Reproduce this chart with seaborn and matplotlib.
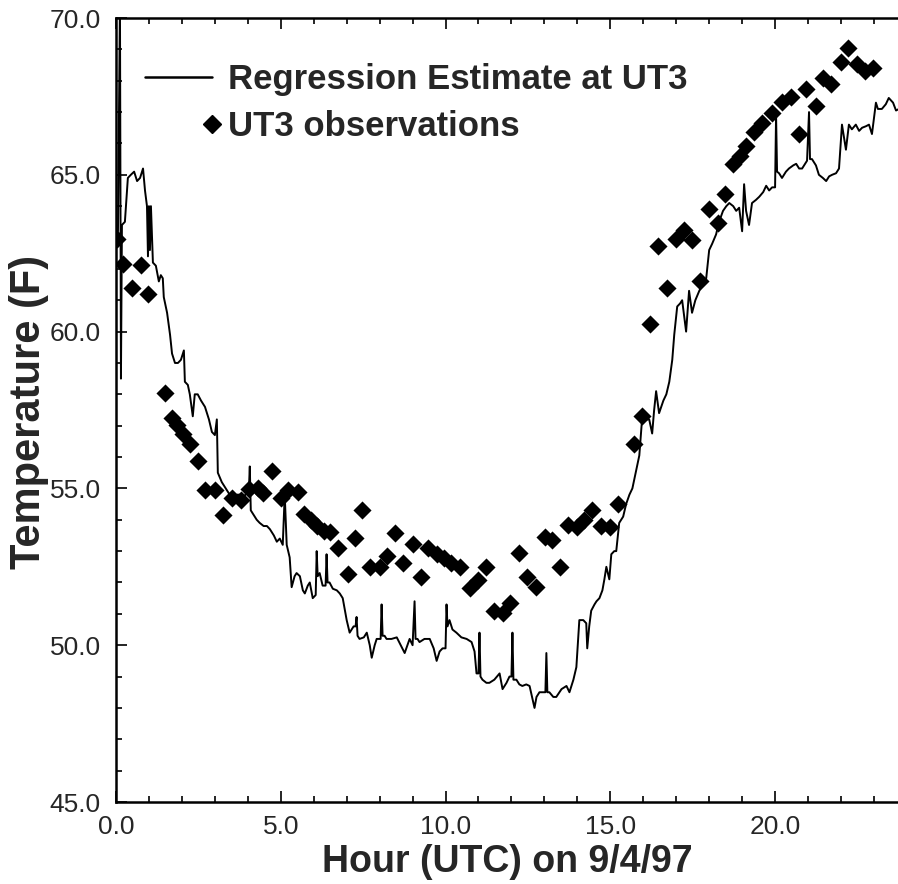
import matplotlib
matplotlib.use("Agg")
import matplotlib.pyplot as plt
from matplotlib.ticker import MultipleLocator, FormatStrFormatter
from matplotlib.lines import Line2D
import seaborn as sns
import pandas as pd

# Regression estimate (line) — hours UTC and temperature (F)
est_hours = [0.06, 0.12, 0.15, 0.18, 0.27, 0.36, 0.45, 0.55, 0.64, 0.73, 0.82, 0.88, 0.94, 0.97, 1.00, 1.03, 1.06,
             1.12, 1.21, 1.30, 1.36, 1.42, 1.45, 1.55, 1.64, 1.70, 1.79, 1.88, 1.97, 2.06, 2.09, 2.18, 2.24, 2.33,
             2.39, 2.48, 2.58, 2.70, 2.82, 2.91, 3.00, 3.06, 3.09, 3.21, 3.33, 3.45, 3.55, 3.67, 3.79, 3.88, 3.97,
             4.03, 4.06, 4.09, 4.15, 4.27, 4.36, 4.48, 4.58, 4.67, 4.79, 4.88, 4.97, 5.06, 5.12, 5.18, 5.27, 5.33,
             5.42, 5.48, 5.58, 5.67, 5.73, 5.82, 5.88, 5.97, 6.06, 6.09, 6.12, 6.18, 6.27, 6.36, 6.39, 6.42, 6.48,
             6.58, 6.70, 6.79, 6.88, 7.00, 7.09, 7.21, 7.27, 7.30, 7.33, 7.39, 7.52, 7.61, 7.70, 7.76, 7.85, 7.91,
             8.03, 8.06, 8.09, 8.15, 8.21, 8.36, 8.52, 8.64, 8.76, 8.91, 9.00, 9.06, 9.09, 9.15, 9.21, 9.36, 9.52,
             9.64, 9.73, 9.82, 9.91, 10.00, 10.03, 10.06, 10.12, 10.21, 10.33, 10.48, 10.64, 10.79, 10.88, 10.94,
             11.00, 11.03, 11.06, 11.12, 11.24, 11.33, 11.48, 11.64, 11.73, 11.85, 11.94, 12.00, 12.03, 12.06,
             12.15, 12.24, 12.33, 12.45, 12.55, 12.70, 12.76, 12.85, 12.97, 13.03, 13.06, 13.09, 13.15, 13.27,
             13.36, 13.52, 13.67, 13.76, 13.88, 13.97, 14.06, 14.18, 14.27, 14.30, 14.36, 14.42, 14.52, 14.58,
             14.67, 14.76, 14.82, 14.88, 14.97, 15.03, 15.12, 15.18, 15.27, 15.39, 15.48, 15.58, 15.67, 15.79,
             15.88, 15.97, 16.09, 16.18, 16.27, 16.33, 16.39, 16.48, 16.61, 16.70, 16.79, 16.88, 16.94, 17.03,
             17.12, 17.18, 17.30, 17.39, 17.48, 17.58, 17.70, 17.82, 17.91, 18.00, 18.09, 18.21, 18.30, 18.42,
             18.52, 18.61, 18.73, 18.82, 18.91, 19.00, 19.06, 19.12, 19.21, 19.30, 19.42, 19.52, 19.64, 19.73,
             19.82, 19.91, 20.00, 20.03, 20.06, 20.12, 20.21, 20.33, 20.42, 20.55, 20.64, 20.73, 20.82, 20.97,
             21.03, 21.06, 21.12, 21.24, 21.33, 21.45, 21.55, 21.64, 21.73, 21.85, 21.94, 22.03, 22.15, 22.24,
             22.33, 22.45, 22.55, 22.64, 22.76, 22.85, 22.94, 23.06, 23.12, 23.24, 23.36, 23.45, 23.58, 23.67,
             23.76]
est_temps = [63.2, 70.5, 58.5, 63.4, 63.5, 64.9, 65.0, 65.1, 64.8, 64.9, 65.2, 64.5, 64.0, 62.4, 64.0, 62.6, 64.0,
             62.2, 62.1, 61.6, 61.8, 61.7, 61.1, 60.6, 59.9, 59.3, 59.0, 59.0, 59.1, 59.4, 58.4, 58.3, 58.0, 57.3,
             58.0, 58.0, 57.8, 57.6, 57.2, 56.8, 56.7, 57.2, 55.5, 55.2, 55.0, 54.8, 54.6, 54.8, 54.8, 54.7, 54.9,
             54.9, 55.7, 54.3, 54.2, 54.0, 53.9, 53.8, 53.8, 53.7, 53.5, 53.3, 53.4, 53.2, 54.8, 53.2, 52.8, 51.85,
             52.2, 52.3, 52.2, 51.75, 51.65, 51.9, 52.0, 51.5, 51.6, 53.0, 52.2, 52.3, 51.9, 51.9, 52.9, 52.0, 52.0,
             51.8, 51.75, 51.65, 51.5, 50.8, 50.4, 50.6, 50.6, 50.9, 50.3, 50.2, 50.25, 50.4, 50.0, 49.6, 50.0, 50.2,
             50.2, 51.3, 50.3, 50.3, 50.2, 50.2, 50.25, 50.0, 49.75, 50.2, 50.0, 51.4, 50.2, 50.2, 50.1, 50.2, 50.2,
             49.9, 49.5, 49.8, 49.9, 49.9, 51.3, 50.6, 50.8, 50.5, 50.4, 50.25, 50.2, 50.1, 49.8, 49.1,
             49.1, 50.4, 49.0, 48.9, 48.8, 48.8, 48.9, 49.1, 48.6, 48.8, 49.0, 49.0, 50.4, 48.9,
             48.9, 48.75, 48.7, 48.75, 48.7, 48.0, 48.35, 48.5, 48.5, 48.5, 49.75, 48.5, 48.5, 48.35,
             48.35, 48.6, 48.7, 48.5, 48.9, 49.3, 50.8, 50.8, 50.7, 49.9, 50.6, 51.1, 51.3, 51.4,
             51.5, 51.75, 52.1, 52.5, 52.1, 52.9, 53.0, 53.0, 53.9, 54.1, 54.5, 54.8, 55.0, 55.6,
             56.05, 57.3, 57.2, 57.2, 56.75, 57.5, 58.1, 57.4, 57.8, 58.0, 58.4, 59.1, 59.9, 60.8,
             60.9, 61.0, 60.0, 61.3, 60.6, 61.0, 61.3, 61.55, 61.7, 62.6, 62.8, 63.1, 63.5, 63.85,
             64.0, 64.1, 64.0, 63.85, 63.95, 63.2, 64.7, 63.85, 63.4, 64.1, 64.2, 64.3, 64.45, 64.65,
             64.5, 64.6, 64.6, 66.9, 65.1, 65.05, 64.9, 65.1, 65.2, 65.3, 65.35, 65.2, 65.2, 65.45,
             67.0, 65.5, 65.5, 65.3, 65.0, 64.9, 64.8, 64.95, 65.0, 65.05, 65.2, 66.6, 65.8, 66.6,
             66.45, 66.6, 66.4, 66.5, 66.55, 66.6, 66.3, 67.3, 67.1, 67.1, 67.25, 67.45, 67.3, 67.05,
             67.1]

# UT3 observations (diamonds)
obs_hours = [0.03, 0.21, 0.48, 0.76, 0.97, 1.48, 1.70, 1.85, 2.03, 2.24, 2.48, 2.70, 3.00, 3.24, 3.52, 3.79,
             4.03, 4.30, 4.45, 4.73, 5.00, 5.21, 5.52, 5.70, 5.91, 6.09, 6.30, 6.48, 6.73, 7.03, 7.24, 7.48,
             7.70, 8.00, 8.21, 8.48, 8.70, 9.00, 9.27, 9.48, 9.73, 9.94, 10.18, 10.45, 10.73, 10.97, 11.24,
             11.48, 11.73, 11.97, 12.24, 12.48, 12.73, 13.03, 13.24, 13.48, 13.73, 14.00, 14.21, 14.45, 14.73,
             15.00, 15.24, 15.73, 15.97, 16.21, 16.45, 16.73, 17.00, 17.24, 17.48, 17.73, 18.00, 18.27, 18.48,
             18.73, 18.94, 19.12, 19.36, 19.61, 19.91, 20.21, 20.48, 20.73, 20.94, 21.24, 21.45, 21.70, 22.00,
             22.21, 22.48, 22.73, 22.97]
obs_temps = [62.96, 62.17, 61.40, 62.13, 61.21, 58.03, 57.23, 57.01, 56.75, 56.43, 55.86, 54.94, 54.94, 54.14,
             54.68, 54.62, 54.97, 55.00, 54.84, 55.57, 54.68, 54.94, 54.90, 54.17, 53.98, 53.79, 53.63, 53.60,
             53.09, 52.26, 53.41, 54.30, 52.48, 52.48, 52.83, 53.57, 52.61, 53.22, 52.17, 53.09, 52.90, 52.77,
             52.61, 52.48, 51.82, 52.07, 52.48, 51.08, 51.02, 51.34, 52.93, 52.17, 51.85, 53.44, 53.34, 52.48,
             53.82, 53.76, 53.98, 54.30, 53.79, 53.76, 54.49, 56.43, 57.32, 60.25, 62.74, 61.40, 62.96, 63.25,
             62.93, 61.62, 63.92, 63.47, 64.39, 65.35, 65.61, 65.92, 66.37, 66.66, 66.97, 67.32, 67.48, 66.31,
             67.74, 67.20, 68.09, 67.90, 68.60, 69.04, 68.54, 68.31, 68.41]

x_ticks = [0, 5, 10, 15, 20]
y_ticks = [45, 50, 55, 60, 65, 70]
x_label = "Hour (UTC) on 9/4/97"
y_label = "Temperature (F)"
line_label = "Regression Estimate at UT3"
obs_label = "UT3 observations"

sns.set_style("ticks")
narrow = ["Liberation Sans Narrow", "Liberation Sans", "DejaVu Sans"]
plt.rcParams["font.family"] = narrow

est_df = pd.DataFrame({"hour": est_hours, "temp": est_temps})
obs_df = pd.DataFrame({"hour": obs_hours, "temp": obs_temps})

fig = plt.figure(figsize=(8.98, 8.84), dpi=100)
ax = fig.add_axes([116 / 898, 82 / 884, 1 - 116 / 898, (884 - 18 - 82) / 884])

sns.lineplot(data=est_df, x="hour", y="temp", sort=False, estimator=None,
             color="black", linewidth=1.4, ax=ax, legend=False)
sns.scatterplot(data=obs_df, x="hour", y="temp", marker="D", s=85, color="black",
                edgecolor="black", linewidth=0, ax=ax, legend=False, zorder=3)

ax.set_xlim(0, 23.73)
ax.set_ylim(45, 70)
ax.set_xticks(x_ticks)
ax.set_yticks(y_ticks)
ax.xaxis.set_major_formatter(FormatStrFormatter("%.1f"))
ax.yaxis.set_major_formatter(FormatStrFormatter("%.1f"))
ax.xaxis.set_minor_locator(MultipleLocator(1))
ax.yaxis.set_minor_locator(MultipleLocator(1))
ax.tick_params(which="both", direction="in", top=True, right=False, color="black", width=1.2)
ax.tick_params(which="major", length=8)
ax.tick_params(which="minor", length=4.5)
ax.tick_params(axis="y", which="major", pad=11, labelsize=19)
ax.tick_params(axis="x", which="major", pad=9, labelsize=19)
for spine in ["left", "bottom", "top"]:
    ax.spines[spine].set_linewidth(1.8)
    ax.spines[spine].set_color("black")
ax.spines["right"].set_visible(False)

ax.set_xlabel(x_label, fontsize=27, fontweight="bold", family=narrow, labelpad=4)
ax.set_ylabel(y_label, fontsize=30, fontweight="bold",
              family=["Liberation Sans", "DejaVu Sans"])
ax.yaxis.set_label_coords(-0.086, 0.497)

leg_prop = {"family": narrow, "weight": "bold", "size": 25}
h_line = Line2D([], [], color="black", linewidth=1.8)
h_obs = Line2D([], [], color="black", marker="D", linestyle="none", markersize=9.5)
leg1 = fig.legend(handles=[h_line], labels=[line_label], loc="center left",
                  bbox_to_anchor=(145 / 898, 1 - 80 / 884), frameon=False, prop=leg_prop,
                  handlelength=1.93, handletextpad=0.46, borderpad=0, borderaxespad=0)
leg2 = fig.legend(handles=[h_obs], labels=[obs_label], loc="center left",
                  bbox_to_anchor=(203 / 898, 1 - 127 / 884), frameon=False, prop=leg_prop,
                  handlelength=0.5, handletextpad=0.21, borderpad=0, borderaxespad=0)

fig.savefig("out.png", dpi=100)
